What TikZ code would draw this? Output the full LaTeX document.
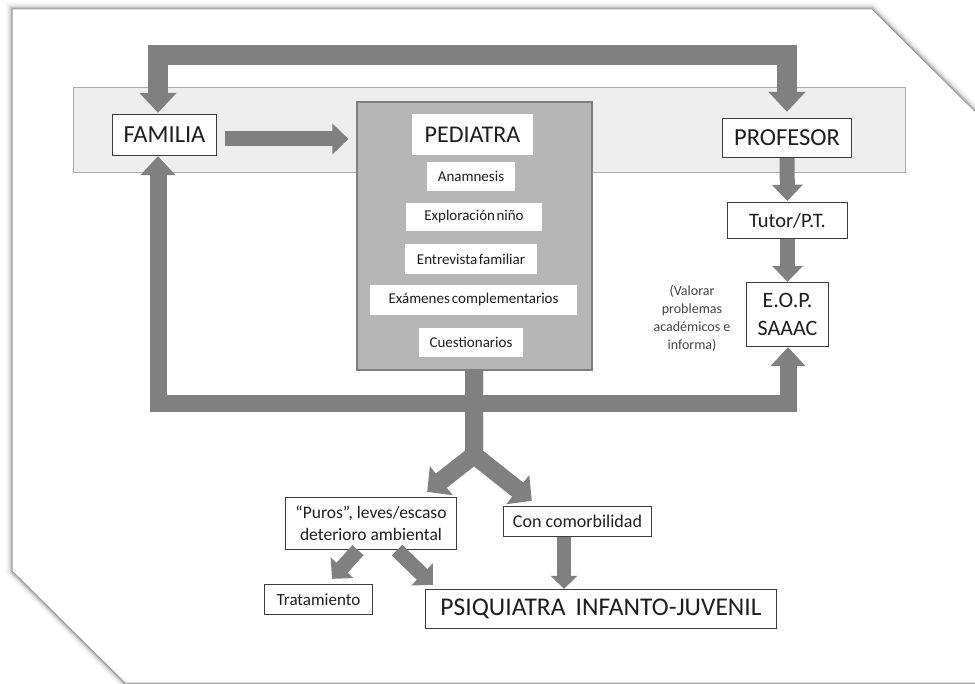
\documentclass[tikz,border=0pt]{standalone}
\usepackage{fontspec}
\setmainfont{Carlito}
\usetikzlibrary{arrows.meta,calc}
\definecolor{arrgray}{HTML}{808080}
\definecolor{boxline}{HTML}{3C3C3C}
\definecolor{txt}{HTML}{1E1E1E}
\definecolor{bandfill}{HTML}{EEEEEE}
\definecolor{bandline}{HTML}{ABABAB}
\definecolor{pedfill}{HTML}{B6B6B6}
\definecolor{pedline}{HTML}{7F7F7F}
\definecolor{notetxt}{HTML}{444444}
\definecolor{frameline}{HTML}{9A9A9A}
\tikzset{
  box/.style={draw=boxline, line width=1.3pt, fill=white, inner sep=0pt,
    text=txt, align=center},
  inbox/.style={fill=white, inner sep=0pt, text=txt,
    font=\fontsize{15}{17}\selectfont},
  flow/.style={draw=arrgray, line cap=butt, line join=miter},
  bigflow/.style={flow, line width=20pt},
  midflow/.style={flow, line width=15pt},
  bighead/.style={-{Triangle[width=36pt,length=20pt]}},
  midhead/.style={-{Triangle[width=30pt,length=16pt]}},
  smallhead/.style={-{Triangle[width=26pt,length=13pt]}},
}
\begin{document}
\begin{tikzpicture}[x=1pt,y=-1pt]
\useasboundingbox (0,0) rectangle (975,684);

% page frame with a soft glow
\foreach \w/\o in {12/0.04,8/0.06,5/0.08,3/0.12}{
  \draw[line width=\w pt, black, opacity=\o, line join=miter]
    (12,9) -- (872,9) -- (1010,146) -- (1010,683) -- (125,683) -- (12,571) -- cycle;
}
\fill[white] (12,9) -- (872,9) -- (1010,146) -- (1010,683) -- (125,683) -- (12,571) -- cycle;
\draw[frameline, line width=1pt]
  (12,9) -- (872,9) -- (1010,146) -- (1010,683) -- (125,683) -- (12,571) -- cycle;

% light band holding the three main actors
\draw[bandline, fill=bandfill, line width=1pt] (73,88) rectangle (905,173);

% nodes
\node[box, minimum width=104pt, minimum height=41pt,
      font=\fontsize{24.5}{27}\selectfont] (fam) at (164.5,135) {FAMILIA};
\node[draw=pedline, fill=pedfill, line width=1.2pt,
      minimum width=235pt, minimum height=268pt, inner sep=0pt] (ped) at (474.5,236) {};
\node[fill=white, inner sep=0pt, text=txt, minimum width=121pt, minimum height=41pt,
      font=\fontsize{24}{27}\selectfont] (pedt) at (472.5,134.5) {PEDIATRA};
\node[inbox, minimum width=88pt, minimum height=29pt] (anam) at (471,176.5) {Anamnesis};
\node[inbox, minimum width=136pt, minimum height=28pt] (expl) at (474,217) {Exploración\hspace{1.5pt}niño};
\node[inbox, minimum width=132pt, minimum height=30pt] (entr) at (471,259) {Entrevista\hspace{1.5pt}familiar};
\node[inbox, minimum width=207pt, minimum height=30pt] (exam) at (473.5,300) {Exámenes\hspace{2pt}complementarios};
\node[inbox, minimum width=104pt, minimum height=29pt] (cuest) at (471,342.5) {Cuestionarios};

\node[box, minimum width=129pt, minimum height=39pt,
      font=\fontsize{24.5}{27}\selectfont] (prof) at (787,138) {PROFESOR};
\node[box, minimum width=120pt, minimum height=36pt,
      font=\fontsize{20.5}{24}\selectfont] (tutor) at (787.5,220.5) {Tutor/P.T.};
\node[box, minimum width=82pt, minimum height=64pt,
      font=\fontsize{22}{28}\selectfont] (eop) at (787.5,314.5) {E.O.P.\\SAAAC};
\node[text=notetxt, align=center, inner sep=0pt,
      font=\fontsize{14}{18}\selectfont] (note) at (692,318) {(Valorar\\problemas\\académicos e\\informa)};

\node[box, minimum width=171pt, minimum height=52pt,
      font=\fontsize{17.5}{22}\selectfont] (puros) at (371,523.5) {“Puros”, leves/escaso\\deterioro ambiental};
\node[box, minimum width=148pt, minimum height=30pt,
      font=\fontsize{18}{20}\selectfont] (como) at (577.5,521.5) {Con comorbilidad};
\node[box, minimum width=108pt, minimum height=30pt,
      font=\fontsize{17}{20}\selectfont] (trat) at (318.5,599.5) {Tratamiento};
\node[box, minimum width=351pt, minimum height=39pt,
      font=\fontsize{25.5}{28}\selectfont] (psiq) at (601,609) {PSIQUIATRA\hspace{0.4em}INFANTO-JUVENIL};

% upper loop between FAMILIA and PROFESOR
\coordinate (topL) at (158,55);
\coordinate (topR) at (787,55);
\draw[bigflow, {Triangle[width=36pt,length=20pt]}-{Triangle[width=36pt,length=20pt]},
      shorten >=6pt, shorten <=1pt]
  (topL |- fam.north) -- (topL) -- (topR) -- (prof.north);

% FAMILIA to PEDIATRA
\coordinate (fa) at ($(fam.east)+(8,4)$);
\draw[midflow, midhead, shorten >=8pt] (fa) -- (fa -| ped.west);

% PROFESOR down to the school team
\draw[midflow, midhead, shorten >=1pt] (prof.south) -- (tutor.north);
\draw[midflow, midhead, shorten >=0pt] (tutor.south) -- (eop.north);

% lower loop from PEDIATRA back to FAMILIA and to E.O.P.
\coordinate (botL) at (158,404);
\coordinate (botR) at (788,404);
\draw[flow, line width=17pt,
      {Triangle[width=34pt,length=19pt]}-{Triangle[width=34pt,length=19pt]}]
  (botL |- fam.south) -- (botL) -- (botR) -- (botR |- eop.south);

% PEDIATRA splits into the two referral paths
\coordinate (fork) at (474,455);
\draw[flow, line width=18pt, -{Triangle[width=36pt,length=18pt]}]
  (fork |- ped.south) -- (fork) -- ($(puros.north east)+(-30,-5)$);
\draw[flow, line width=18pt, -{Triangle[width=36pt,length=18pt]}]
  (fork |- ped.south) -- (fork) -- ($(como.north west)+(29,-5)$);

% from the mild cases
\draw[flow, line width=15pt, -{Triangle[width=30pt,length=15pt]}]
  ($(puros.south)+(-13,0)$) -- ($(trat.north)+(13.5,-5)$);
\draw[flow, line width=15pt, -{Triangle[width=30pt,length=15pt]}]
  ($(puros.south)+(26,0)$) -- ($(psiq.north west)+(8,-4)$);

% from the comorbid cases
\draw[flow, line width=14pt, smallhead]
  ($(como.south)+(-13.5,0)$) -- ($(psiq.north)+(-37,0)$);
\end{tikzpicture}
\end{document}
